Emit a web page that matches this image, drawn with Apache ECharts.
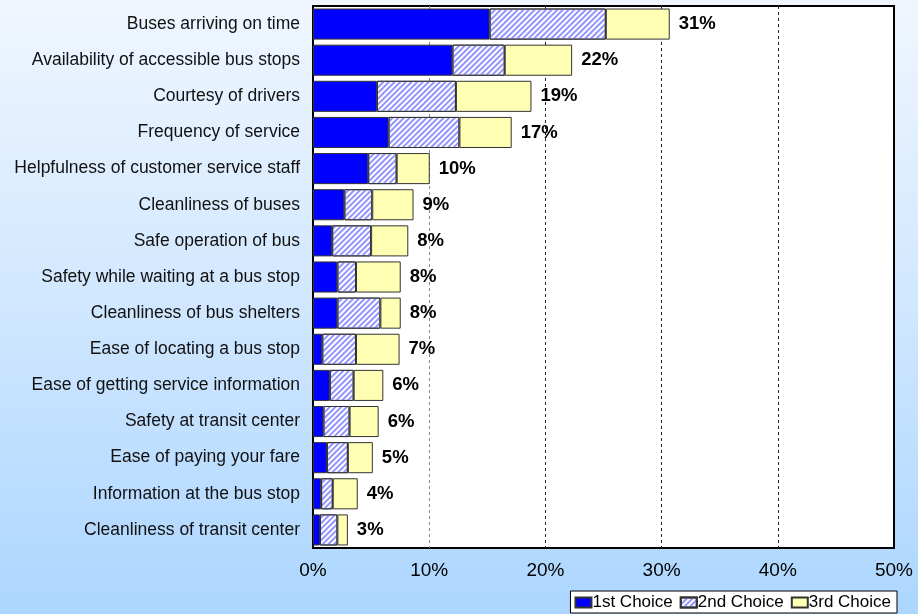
<!DOCTYPE html>
<html>
<head>
<meta charset="utf-8">
<script src="https://cdn.jsdelivr.net/npm/echarts@6/dist/echarts.min.js"></script>
<style>
  html, body { margin: 0; padding: 0; }
  #chart { width: 918px; height: 614px; }
</style>
</head>
<body>
<div id="chart"></div>
<script>
// Survey items, ranked by combined share of choices
const categories = [
  'Buses arriving on time',
  'Availability of accessible bus stops',
  'Courtesy of drivers',
  'Frequency of service',
  'Helpfulness of customer service staff',
  'Cleanliness of buses',
  'Safe operation of bus',
  'Safety while waiting at a bus stop',
  'Cleanliness of bus shelters',
  'Ease of locating a bus stop',
  'Ease of getting service information',
  'Safety at transit center',
  'Ease of paying your fare',
  'Information at the bus stop',
  'Cleanliness of transit center'
];

// Percent of respondents per choice rank
const firstChoice  = [15.2, 12.0, 5.5, 6.5, 4.75, 2.7, 1.65, 2.1, 2.1, 0.8, 1.45, 0.9, 1.2, 0.7, 0.6];
const secondChoice = [10.0, 4.5, 6.8, 6.1, 2.45, 2.4, 3.35, 1.6, 3.7, 2.9, 2.05, 2.25, 1.8, 1.0, 1.5];
const thirdChoice  = [5.5, 5.8, 6.5, 4.5, 2.85, 3.55, 3.2, 3.85, 1.75, 3.75, 2.55, 2.5, 2.15, 2.15, 0.9];

const xTicks = [0, 10, 20, 30, 40, 50];

const totals = categories.map((_, i) => firstChoice[i] + secondChoice[i] + thirdChoice[i]);

const chart = echarts.init(document.getElementById('chart'), null, { renderer: 'canvas' });

const barBorder = { borderColor: '#333333', borderWidth: 1 };

// Fine diagonal blue hatching on white for the second choice
const hatch = {
  symbol: 'rect',
  symbolSize: 1,
  color: '#9494ff',
  dashArrayX: [1, 0],
  dashArrayY: [1.2, 1.8],
  rotation: -Math.PI / 4
};

chart.setOption({
  backgroundColor: {
    type: 'linear', x: 0, y: 0, x2: 0, y2: 1,
    colorStops: [
      { offset: 0, color: '#f0f6ff' },
      { offset: 0.5, color: '#d0e7ff' },
      { offset: 1, color: '#acd6ff' }
    ]
  },
  textStyle: { fontFamily: 'Liberation Sans, Arial, sans-serif' },
  grid: {
    left: 313, right: 24, top: 6, bottom: 66,
    show: true, backgroundColor: '#ffffff', borderColor: '#000000', borderWidth: 2
  },
  legend: {
    right: 21, bottom: 1,
    orient: 'horizontal',
    backgroundColor: '#ffffff',
    borderColor: '#000000', borderWidth: 1,
    padding: [3, 6, 2, 4],
    icon: 'rect',
    itemWidth: 16, itemHeight: 10, itemGap: 7,
    textStyle: { fontSize: 17, color: '#000000', padding: [0, 0, 0, -4] },
    data: ['1st Choice', '2nd Choice', '3rd Choice']
  },
  xAxis: {
    type: 'value',
    min: xTicks[0], max: xTicks[xTicks.length - 1], interval: 10,
    axisLine: { show: false },
    axisTick: { show: false },
    axisLabel: { formatter: '{value}%', fontSize: 19, color: '#000000', margin: 13 },
    splitLine: {
      show: true,
      lineStyle: { color: ['#000000', '#8a8a8a', '#222222', '#222222', '#222222', '#000000'], type: [3, 3], width: 1 }
    }
  },
  yAxis: {
    type: 'category',
    data: categories,
    inverse: true,
    axisLine: { show: false },
    axisTick: { show: false },
    axisLabel: { fontSize: 17.5, color: '#111111', margin: 13 }
  },
  series: [
    {
      name: '1st Choice', type: 'bar', stack: 'total', barWidth: '86%',
      itemStyle: Object.assign({ color: '#0000ff' }, barBorder),
      data: firstChoice
    },
    {
      name: '2nd Choice', type: 'bar', stack: 'total',
      itemStyle: Object.assign({ color: '#ffffff', decal: hatch }, barBorder),
      data: secondChoice
    },
    {
      name: '3rd Choice', type: 'bar', stack: 'total',
      itemStyle: Object.assign({ color: '#ffffb4' }, barBorder),
      label: {
        show: true, position: 'right', distance: 9,
        fontSize: 18.5, fontWeight: 'bold', color: '#000000',
        formatter: p => Math.round(totals[p.dataIndex]) + '%'
      },
      data: thirdChoice
    }
  ]
});
</script>
</body>
</html>
